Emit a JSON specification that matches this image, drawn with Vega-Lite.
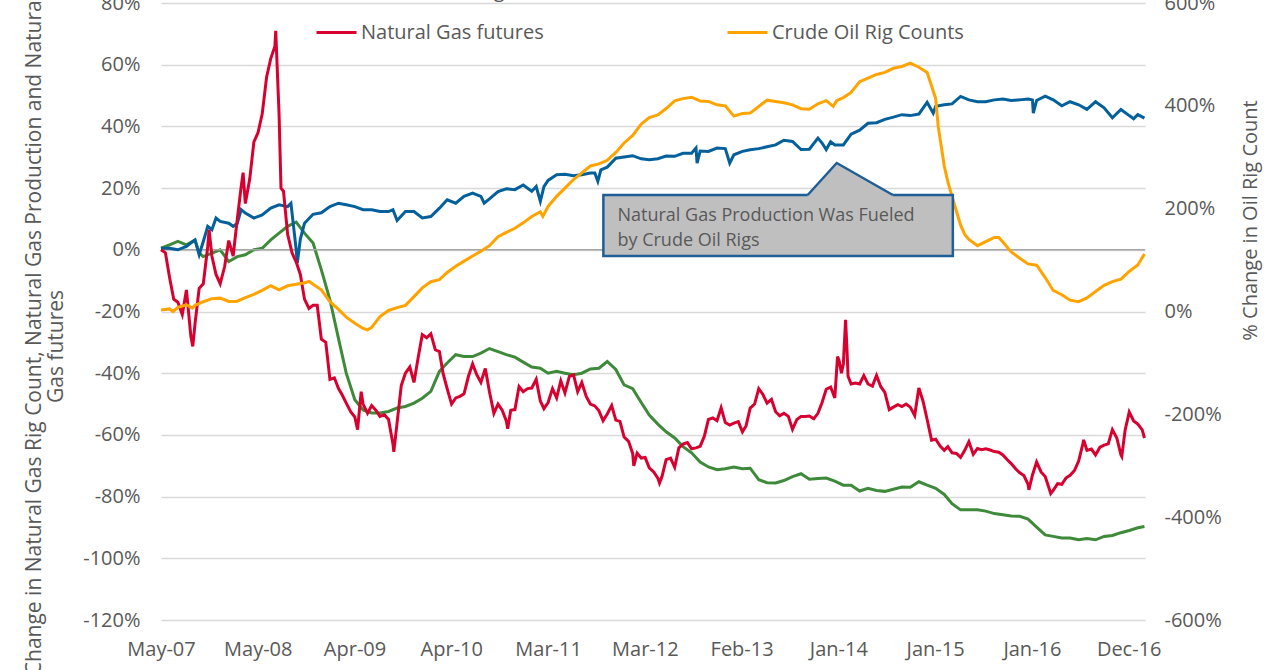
{
"$schema": "https://vega.github.io/schema/vega-lite/v6.json",
"width": 984,
"height": 617,
"autosize": "none",
"padding": {"left": 161, "top": 3, "right": 135, "bottom": 50},
"background": "#ffffff",
"config": {
  "font": "Open Sans",
  "view": {"stroke": null},
  "axis": {"labelFont": "Open Sans", "labelFontSize": 20, "labelColor": "#595959", "titleFont": "Open Sans", "titleFontSize": 20, "titleFontWeight": "normal", "titleColor": "#595959", "ticks": false, "domain": false, "gridColor": "#D9D9D9", "gridWidth": 1.5, "labelOverlap": false, "labelBound": false, "labelFlush": false},
  "line": {"strokeWidth": 3}
},
"datasets": {
  "rig": [
    {"d":"2007-05-18","v":0.5},{"d":"2007-06-18","v":1.6},{"d":"2007-07-18","v":2.7},{"d":"2007-08-18","v":1.6},{"d":"2007-09-18","v":3.2},{"d":"2007-10-03","v":-1},{"d":"2007-10-18","v":-2.2},{"d":"2007-11-18","v":-1.1},{"d":"2007-12-18","v":0},{"d":"2008-01-18","v":-3.8},{"d":"2008-02-18","v":-2.2},{"d":"2008-03-18","v":-1.6},{"d":"2008-04-18","v":0},{"d":"2008-05-18","v":0.5},{"d":"2008-06-18","v":3.2},{"d":"2008-07-18","v":5.4},{"d":"2008-08-18","v":7.6},{"d":"2008-09-18","v":9},{"d":"2008-10-18","v":5.4},{"d":"2008-11-18","v":2.2},{"d":"2008-12-18","v":-6.5},{"d":"2009-01-18","v":-16.2},{"d":"2009-02-18","v":-28.8},{"d":"2009-03-18","v":-40},{"d":"2009-04-18","v":-48.6},{"d":"2009-05-18","v":-51.9},{"d":"2009-06-18","v":-52.9},{"d":"2009-07-18","v":-52.9},{"d":"2009-08-18","v":-52.4},{"d":"2009-09-18","v":-51.3},{"d":"2009-10-18","v":-50.8},{"d":"2009-11-18","v":-49.7},{"d":"2009-12-18","v":-48.1},{"d":"2010-01-18","v":-45.9},{"d":"2010-02-18","v":-39.4},{"d":"2010-03-18","v":-36.7},{"d":"2010-04-18","v":-34},{"d":"2010-05-18","v":-34.6},{"d":"2010-06-18","v":-34.6},{"d":"2010-07-18","v":-33.5},{"d":"2010-08-18","v":-32},{"d":"2010-09-18","v":-33},{"d":"2010-10-18","v":-34},{"d":"2010-11-18","v":-34.8},{"d":"2010-12-18","v":-36.4},{"d":"2011-01-18","v":-38},{"d":"2011-02-18","v":-38.4},{"d":"2011-03-18","v":-40},{"d":"2011-04-18","v":-39.4},{"d":"2011-05-18","v":-40},{"d":"2011-06-18","v":-40.5},{"d":"2011-07-18","v":-40},{"d":"2011-08-18","v":-38.6},{"d":"2011-09-18","v":-38.4},{"d":"2011-10-18","v":-36.2},{"d":"2011-11-18","v":-38.8},{"d":"2011-12-18","v":-43.8},{"d":"2012-01-18","v":-45},{"d":"2012-02-18","v":-49.5},{"d":"2012-03-18","v":-53.6},{"d":"2012-04-18","v":-56.5},{"d":"2012-05-18","v":-59},{"d":"2012-06-18","v":-61},{"d":"2012-07-18","v":-63.8},{"d":"2012-08-18","v":-65.8},{"d":"2012-09-18","v":-68.8},{"d":"2012-10-18","v":-70.4},{"d":"2012-11-18","v":-71.3},{"d":"2012-12-18","v":-71},{"d":"2013-01-18","v":-70.4},{"d":"2013-02-18","v":-71},{"d":"2013-03-18","v":-70.8},{"d":"2013-04-18","v":-74.5},{"d":"2013-05-18","v":-75.5},{"d":"2013-06-18","v":-75.6},{"d":"2013-07-18","v":-74.8},{"d":"2013-08-18","v":-73.5},{"d":"2013-09-18","v":-72.6},{"d":"2013-10-18","v":-74.4},{"d":"2013-11-18","v":-74.1},{"d":"2013-12-18","v":-74},{"d":"2014-01-18","v":-75},{"d":"2014-02-18","v":-76.3},{"d":"2014-03-18","v":-76.3},{"d":"2014-04-18","v":-78.2},{"d":"2014-05-18","v":-77.3},{"d":"2014-06-18","v":-78},{"d":"2014-07-18","v":-78.3},{"d":"2014-08-18","v":-77.6},{"d":"2014-09-18","v":-76.9},{"d":"2014-10-18","v":-77},{"d":"2014-11-18","v":-75.2},{"d":"2014-12-18","v":-76.3},{"d":"2015-01-18","v":-77.3},{"d":"2015-02-18","v":-79.3},{"d":"2015-03-18","v":-82.3},{"d":"2015-04-18","v":-84.3},{"d":"2015-05-18","v":-84.3},{"d":"2015-06-18","v":-84.3},{"d":"2015-07-18","v":-84.7},{"d":"2015-08-18","v":-85.5},{"d":"2015-09-18","v":-85.9},{"d":"2015-10-18","v":-86.3},{"d":"2015-11-18","v":-86.4},{"d":"2015-12-18","v":-87.3},{"d":"2016-01-18","v":-89.9},{"d":"2016-02-18","v":-92.4},{"d":"2016-03-18","v":-92.9},{"d":"2016-04-18","v":-93.4},{"d":"2016-05-18","v":-93.4},{"d":"2016-06-18","v":-94},{"d":"2016-07-18","v":-93.6},{"d":"2016-08-18","v":-94},{"d":"2016-09-18","v":-92.9},{"d":"2016-10-18","v":-92.6},{"d":"2016-11-18","v":-91.7},{"d":"2016-12-18","v":-91},{"d":"2017-01-18","v":-90.1},{"d":"2017-02-11","v":-89.7}
  ],
  "prod": [
    {"d":"2007-05-18","v":0.5},{"d":"2007-06-18","v":0.5},{"d":"2007-07-18","v":0},{"d":"2007-08-18","v":1.1},{"d":"2007-09-18","v":3.2},{"d":"2007-10-03","v":-1.6},{"d":"2007-10-18","v":2.7},{"d":"2007-11-03","v":7.6},{"d":"2007-11-18","v":6.5},{"d":"2007-12-03","v":10.3},{"d":"2007-12-18","v":9.2},{"d":"2008-01-18","v":8.6},{"d":"2008-02-03","v":7.6},{"d":"2008-02-18","v":8.6},{"d":"2008-03-03","v":13},{"d":"2008-03-18","v":11.9},{"d":"2008-04-18","v":10.3},{"d":"2008-05-18","v":11.3},{"d":"2008-06-18","v":13.5},{"d":"2008-07-18","v":14.6},{"d":"2008-08-18","v":14},{"d":"2008-08-30","v":15.1},{"d":"2008-09-18","v":0},{"d":"2008-09-22","v":-4.3},{"d":"2008-10-03","v":3.5},{"d":"2008-10-18","v":8.6},{"d":"2008-11-18","v":11.5},{"d":"2008-12-18","v":12},{"d":"2009-01-18","v":14},{"d":"2009-02-18","v":15.1},{"d":"2009-03-18","v":14.6},{"d":"2009-04-18","v":14},{"d":"2009-05-18","v":13},{"d":"2009-06-18","v":13},{"d":"2009-07-18","v":12.4},{"d":"2009-08-18","v":12.4},{"d":"2009-09-03","v":13},{"d":"2009-09-18","v":9.5},{"d":"2009-10-18","v":12.4},{"d":"2009-11-18","v":12.4},{"d":"2009-12-18","v":10.3},{"d":"2010-01-18","v":10.8},{"d":"2010-02-18","v":13.5},{"d":"2010-03-18","v":16.2},{"d":"2010-04-18","v":15.1},{"d":"2010-05-18","v":17.3},{"d":"2010-06-18","v":18.4},{"d":"2010-07-18","v":17.3},{"d":"2010-07-30","v":15.1},{"d":"2010-08-18","v":16.5},{"d":"2010-09-18","v":18.9},{"d":"2010-10-18","v":19.8},{"d":"2010-11-18","v":19.5},{"d":"2010-12-18","v":21},{"d":"2011-01-18","v":19},{"d":"2011-02-03","v":20.5},{"d":"2011-02-18","v":15.7},{"d":"2011-03-03","v":20.5},{"d":"2011-03-18","v":22.5},{"d":"2011-04-18","v":24.3},{"d":"2011-05-18","v":24.5},{"d":"2011-06-18","v":24},{"d":"2011-07-18","v":24.3},{"d":"2011-08-18","v":24.9},{"d":"2011-09-03","v":24.9},{"d":"2011-09-14","v":22.2},{"d":"2011-09-25","v":25.9},{"d":"2011-10-18","v":26.8},{"d":"2011-11-18","v":29.7},{"d":"2011-12-18","v":30.1},{"d":"2012-01-18","v":30.5},{"d":"2012-02-18","v":29.5},{"d":"2012-03-18","v":29.2},{"d":"2012-04-18","v":29.5},{"d":"2012-05-18","v":30.4},{"d":"2012-06-18","v":30.3},{"d":"2012-07-18","v":31.3},{"d":"2012-08-18","v":31.3},{"d":"2012-09-03","v":33},{"d":"2012-09-07","v":28.1},{"d":"2012-09-18","v":32},{"d":"2012-10-18","v":31.9},{"d":"2012-11-18","v":33},{"d":"2012-12-18","v":32.8},{"d":"2013-01-03","v":28.1},{"d":"2013-01-18","v":30.8},{"d":"2013-02-18","v":31.9},{"d":"2013-03-18","v":32.4},{"d":"2013-04-18","v":32.8},{"d":"2013-05-18","v":33.4},{"d":"2013-06-18","v":34},{"d":"2013-07-18","v":35.5},{"d":"2013-08-18","v":35.1},{"d":"2013-09-18","v":32.5},{"d":"2013-10-18","v":32.6},{"d":"2013-11-18","v":36.2},{"d":"2013-12-03","v":34.6},{"d":"2013-12-18","v":32.5},{"d":"2014-01-03","v":35},{"d":"2014-01-18","v":34},{"d":"2014-02-18","v":34},{"d":"2014-03-18","v":37.5},{"d":"2014-04-18","v":38.8},{"d":"2014-05-18","v":41},{"d":"2014-06-18","v":41.2},{"d":"2014-07-18","v":42.3},{"d":"2014-08-18","v":43},{"d":"2014-09-18","v":43.8},{"d":"2014-10-18","v":43.5},{"d":"2014-11-18","v":44},{"d":"2014-12-18","v":47.8},{"d":"2015-01-09","v":44.3},{"d":"2015-01-18","v":46.5},{"d":"2015-02-18","v":47},{"d":"2015-03-18","v":47.3},{"d":"2015-04-18","v":49.7},{"d":"2015-05-18","v":48.6},{"d":"2015-06-18","v":48},{"d":"2015-07-18","v":48},{"d":"2015-08-18","v":48.6},{"d":"2015-09-18","v":48.9},{"d":"2015-10-18","v":48.4},{"d":"2015-11-18","v":48.6},{"d":"2015-12-18","v":48.9},{"d":"2016-01-03","v":48.6},{"d":"2016-01-06","v":44.3},{"d":"2016-01-18","v":48.4},{"d":"2016-02-18","v":49.8},{"d":"2016-03-18","v":48.6},{"d":"2016-04-18","v":46.7},{"d":"2016-05-18","v":48},{"d":"2016-06-18","v":47},{"d":"2016-07-18","v":45.5},{"d":"2016-08-18","v":48},{"d":"2016-09-18","v":46},{"d":"2016-10-18","v":42.8},{"d":"2016-11-18","v":45.5},{"d":"2016-12-18","v":43.5},{"d":"2017-01-03","v":42.5},{"d":"2017-01-18","v":43.8},{"d":"2017-02-11","v":42.7}
  ],
  "fut": [
    {"d":"2007-05-18","v":0},{"d":"2007-06-03","v":-1},{"d":"2007-06-18","v":-9},{"d":"2007-07-03","v":-16},{"d":"2007-07-18","v":-17},{"d":"2007-08-03","v":-21},{"d":"2007-08-18","v":-13},{"d":"2007-09-03","v":-28},{"d":"2007-09-10","v":-31.3},{"d":"2007-09-18","v":-24},{"d":"2007-10-03","v":-12.5},{"d":"2007-10-18","v":-11},{"d":"2007-11-03","v":1},{"d":"2007-11-08","v":6.5},{"d":"2007-11-18","v":-2},{"d":"2007-12-03","v":-8},{"d":"2007-12-18","v":-11},{"d":"2008-01-03","v":-5.5},{"d":"2008-01-18","v":3},{"d":"2008-02-03","v":-2},{"d":"2008-02-18","v":10},{"d":"2008-03-03","v":20.5},{"d":"2008-03-10","v":25},{"d":"2008-03-18","v":15},{"d":"2008-04-03","v":23},{"d":"2008-04-18","v":35},{"d":"2008-05-03","v":38},{"d":"2008-05-18","v":44},{"d":"2008-06-03","v":56},{"d":"2008-06-18","v":62},{"d":"2008-07-03","v":66},{"d":"2008-07-06","v":71},{"d":"2008-07-18","v":44},{"d":"2008-07-25","v":20},{"d":"2008-08-03","v":19},{"d":"2008-08-18","v":5},{"d":"2008-09-03","v":-1},{"d":"2008-09-18","v":-4},{"d":"2008-10-03","v":-8},{"d":"2008-10-18","v":-16},{"d":"2008-11-03","v":-19},{"d":"2008-11-18","v":-18},{"d":"2008-12-03","v":-18},{"d":"2008-12-18","v":-29},{"d":"2009-01-03","v":-30},{"d":"2009-01-18","v":-42},{"d":"2009-02-03","v":-41.5},{"d":"2009-02-18","v":-45},{"d":"2009-03-03","v":-47},{"d":"2009-03-18","v":-49.7},{"d":"2009-04-03","v":-52.5},{"d":"2009-04-18","v":-54.2},{"d":"2009-04-28","v":-58.3},{"d":"2009-05-11","v":-46},{"d":"2009-05-18","v":-50},{"d":"2009-06-03","v":-53},{"d":"2009-06-18","v":-50.5},{"d":"2009-07-03","v":-52},{"d":"2009-07-18","v":-54},{"d":"2009-08-03","v":-53.5},{"d":"2009-08-18","v":-55},{"d":"2009-09-03","v":-63},{"d":"2009-09-06","v":-65.5},{"d":"2009-09-18","v":-56},{"d":"2009-10-03","v":-44},{"d":"2009-10-18","v":-40},{"d":"2009-11-03","v":-38},{"d":"2009-11-18","v":-43},{"d":"2009-12-03","v":-35},{"d":"2009-12-18","v":-27.5},{"d":"2010-01-03","v":-28.5},{"d":"2010-01-18","v":-27.2},{"d":"2010-02-03","v":-32.4},{"d":"2010-02-18","v":-33},{"d":"2010-03-03","v":-40},{"d":"2010-03-18","v":-45},{"d":"2010-04-03","v":-50},{"d":"2010-04-18","v":-48},{"d":"2010-05-03","v":-47.5},{"d":"2010-05-18","v":-46.7},{"d":"2010-06-03","v":-41},{"d":"2010-06-18","v":-37},{"d":"2010-07-03","v":-40.5},{"d":"2010-07-18","v":-43},{"d":"2010-08-03","v":-38.5},{"d":"2010-08-18","v":-46},{"d":"2010-09-03","v":-53},{"d":"2010-09-18","v":-50},{"d":"2010-10-03","v":-52},{"d":"2010-10-18","v":-55.5},{"d":"2010-10-23","v":-58},{"d":"2010-11-03","v":-52},{"d":"2010-11-18","v":-51.8},{"d":"2010-12-03","v":-44.3},{"d":"2010-12-18","v":-46},{"d":"2011-01-03","v":-45},{"d":"2011-01-18","v":-44.8},{"d":"2011-02-03","v":-42},{"d":"2011-02-18","v":-49},{"d":"2011-03-03","v":-51.5},{"d":"2011-03-18","v":-49.5},{"d":"2011-04-03","v":-45},{"d":"2011-04-18","v":-48},{"d":"2011-05-03","v":-42.5},{"d":"2011-05-18","v":-46.4},{"d":"2011-06-03","v":-41},{"d":"2011-06-18","v":-40.5},{"d":"2011-07-03","v":-46},{"d":"2011-07-18","v":-43},{"d":"2011-08-03","v":-47.5},{"d":"2011-08-18","v":-50},{"d":"2011-09-03","v":-50.6},{"d":"2011-09-18","v":-52.2},{"d":"2011-10-03","v":-55.4},{"d":"2011-10-18","v":-53.2},{"d":"2011-11-03","v":-50.5},{"d":"2011-11-18","v":-55.2},{"d":"2011-12-03","v":-55.6},{"d":"2011-12-18","v":-60.7},{"d":"2012-01-03","v":-62.1},{"d":"2012-01-18","v":-66},{"d":"2012-01-22","v":-70},{"d":"2012-02-03","v":-65.9},{"d":"2012-02-18","v":-67.5},{"d":"2012-03-03","v":-67.3},{"d":"2012-03-18","v":-70.7},{"d":"2012-04-03","v":-72},{"d":"2012-04-18","v":-74},{"d":"2012-04-24","v":-75.6},{"d":"2012-05-03","v":-73.5},{"d":"2012-05-18","v":-68},{"d":"2012-06-03","v":-67.5},{"d":"2012-06-18","v":-70.5},{"d":"2012-07-03","v":-64.2},{"d":"2012-07-18","v":-63},{"d":"2012-08-03","v":-62.5},{"d":"2012-08-18","v":-64.5},{"d":"2012-09-03","v":-64.2},{"d":"2012-09-18","v":-63.7},{"d":"2012-10-03","v":-60.5},{"d":"2012-10-18","v":-55},{"d":"2012-11-03","v":-54.5},{"d":"2012-11-18","v":-55.4},{"d":"2012-12-03","v":-51.2},{"d":"2012-12-18","v":-56},{"d":"2013-01-03","v":-56.8},{"d":"2013-01-18","v":-56.2},{"d":"2013-02-03","v":-55.7},{"d":"2013-02-18","v":-59},{"d":"2013-03-03","v":-57.1},{"d":"2013-03-18","v":-51.3},{"d":"2013-04-03","v":-50},{"d":"2013-04-18","v":-45},{"d":"2013-05-03","v":-46.9},{"d":"2013-05-18","v":-49.7},{"d":"2013-06-03","v":-48.5},{"d":"2013-06-18","v":-52.5},{"d":"2013-07-03","v":-53.8},{"d":"2013-07-18","v":-53},{"d":"2013-08-03","v":-54},{"d":"2013-08-18","v":-58.2},{"d":"2013-09-03","v":-55},{"d":"2013-09-18","v":-54},{"d":"2013-10-03","v":-54},{"d":"2013-10-18","v":-53.9},{"d":"2013-11-03","v":-54.8},{"d":"2013-11-18","v":-53},{"d":"2013-12-03","v":-49.5},{"d":"2013-12-18","v":-45.2},{"d":"2014-01-03","v":-44.5},{"d":"2014-01-18","v":-48},{"d":"2014-01-28","v":-34.6},{"d":"2014-02-03","v":-36},{"d":"2014-02-11","v":-40},{"d":"2014-02-18","v":-37},{"d":"2014-02-26","v":-22.7},{"d":"2014-03-03","v":-32},{"d":"2014-03-07","v":-41},{"d":"2014-03-18","v":-43.5},{"d":"2014-04-03","v":-43.2},{"d":"2014-04-18","v":-43.5},{"d":"2014-05-03","v":-40.8},{"d":"2014-05-18","v":-43.5},{"d":"2014-06-03","v":-44.2},{"d":"2014-06-18","v":-40.7},{"d":"2014-07-03","v":-44.3},{"d":"2014-07-18","v":-46.2},{"d":"2014-08-03","v":-51.8},{"d":"2014-08-18","v":-51},{"d":"2014-09-03","v":-50.2},{"d":"2014-09-18","v":-50.8},{"d":"2014-10-03","v":-50},{"d":"2014-10-18","v":-51},{"d":"2014-11-03","v":-53.7},{"d":"2014-11-18","v":-44.8},{"d":"2014-12-03","v":-49},{"d":"2014-12-18","v":-55},{"d":"2015-01-03","v":-61.7},{"d":"2015-01-18","v":-61.4},{"d":"2015-02-03","v":-63.6},{"d":"2015-02-18","v":-65},{"d":"2015-03-03","v":-63.8},{"d":"2015-03-18","v":-65.8},{"d":"2015-04-03","v":-66},{"d":"2015-04-18","v":-67.3},{"d":"2015-05-03","v":-65},{"d":"2015-05-18","v":-62.2},{"d":"2015-06-03","v":-66.3},{"d":"2015-06-18","v":-64.4},{"d":"2015-07-03","v":-64.8},{"d":"2015-07-18","v":-64.5},{"d":"2015-08-03","v":-64.9},{"d":"2015-08-18","v":-65.4},{"d":"2015-09-03","v":-65.6},{"d":"2015-09-18","v":-66.5},{"d":"2015-10-03","v":-68},{"d":"2015-10-18","v":-69.3},{"d":"2015-11-03","v":-71},{"d":"2015-11-18","v":-72.3},{"d":"2015-12-03","v":-73.2},{"d":"2015-12-18","v":-76},{"d":"2015-12-21","v":-77.8},{"d":"2016-01-03","v":-73},{"d":"2016-01-18","v":-68.8},{"d":"2016-02-03","v":-72},{"d":"2016-02-18","v":-73.5},{"d":"2016-03-03","v":-77.3},{"d":"2016-03-09","v":-79},{"d":"2016-03-18","v":-78},{"d":"2016-04-03","v":-75.8},{"d":"2016-04-18","v":-76},{"d":"2016-05-03","v":-74},{"d":"2016-05-18","v":-73.1},{"d":"2016-06-03","v":-71.5},{"d":"2016-06-18","v":-68.5},{"d":"2016-07-03","v":-63},{"d":"2016-07-06","v":-61.6},{"d":"2016-07-18","v":-65},{"d":"2016-08-03","v":-64.6},{"d":"2016-08-18","v":-66.5},{"d":"2016-09-03","v":-64},{"d":"2016-09-18","v":-63.3},{"d":"2016-10-03","v":-62.9},{"d":"2016-10-18","v":-58.3},{"d":"2016-11-03","v":-61},{"d":"2016-11-18","v":-66.5},{"d":"2016-11-21","v":-67},{"d":"2016-12-03","v":-58.5},{"d":"2016-12-18","v":-52.6},{"d":"2017-01-03","v":-55.5},{"d":"2017-01-18","v":-56.5},{"d":"2017-02-03","v":-58.4},{"d":"2017-02-11","v":-61}
  ],
  "oil": [
    {"d":"2007-05-18","v":3},{"d":"2007-06-18","v":5},{"d":"2007-07-01","v":0},{"d":"2007-07-18","v":8},{"d":"2007-08-18","v":13},{"d":"2007-09-08","v":6.6},{"d":"2007-09-18","v":12},{"d":"2007-10-18","v":19},{"d":"2007-11-18","v":25},{"d":"2007-12-18","v":26},{"d":"2008-01-18","v":19.5},{"d":"2008-02-18","v":20},{"d":"2008-03-18","v":27},{"d":"2008-04-18","v":33.5},{"d":"2008-05-18","v":41},{"d":"2008-06-18","v":50},{"d":"2008-07-18","v":42},{"d":"2008-08-18","v":50},{"d":"2008-09-18","v":53},{"d":"2008-10-18","v":56},{"d":"2008-11-04","v":58.4},{"d":"2008-11-18","v":53},{"d":"2008-12-18","v":42.2},{"d":"2009-01-18","v":19},{"d":"2009-02-18","v":4},{"d":"2009-03-18","v":-11},{"d":"2009-04-18","v":-23},{"d":"2009-05-18","v":-33},{"d":"2009-06-03","v":-35.6},{"d":"2009-06-18","v":-31},{"d":"2009-07-18","v":-10},{"d":"2009-08-18","v":2},{"d":"2009-09-18","v":7.5},{"d":"2009-10-18","v":12},{"d":"2009-11-18","v":29},{"d":"2009-12-18","v":46},{"d":"2010-01-18","v":58},{"d":"2010-02-18","v":62},{"d":"2010-03-18","v":76},{"d":"2010-04-18","v":88},{"d":"2010-05-18","v":98},{"d":"2010-06-18","v":108},{"d":"2010-07-18","v":117},{"d":"2010-08-18","v":128},{"d":"2010-09-18","v":145.5},{"d":"2010-10-18","v":153.8},{"d":"2010-11-18","v":161.9},{"d":"2010-12-18","v":172.4},{"d":"2011-01-18","v":184.7},{"d":"2011-02-18","v":194},{"d":"2011-02-27","v":185},{"d":"2011-03-18","v":204.3},{"d":"2011-04-18","v":224},{"d":"2011-05-18","v":240},{"d":"2011-06-18","v":256.7},{"d":"2011-07-18","v":269.7},{"d":"2011-08-18","v":283},{"d":"2011-09-18","v":287.2},{"d":"2011-10-18","v":294},{"d":"2011-11-18","v":309.4},{"d":"2011-12-18","v":327.8},{"d":"2012-01-18","v":342.5},{"d":"2012-02-18","v":364.6},{"d":"2012-03-18","v":377},{"d":"2012-04-18","v":382.2},{"d":"2012-05-18","v":394.7},{"d":"2012-06-18","v":409.8},{"d":"2012-07-18","v":414},{"d":"2012-08-18","v":416.8},{"d":"2012-09-18","v":409.5},{"d":"2012-10-18","v":408.5},{"d":"2012-11-18","v":402},{"d":"2012-12-18","v":400},{"d":"2013-01-18","v":380},{"d":"2013-02-18","v":385},{"d":"2013-03-18","v":385.9},{"d":"2013-04-18","v":398.8},{"d":"2013-05-18","v":411},{"d":"2013-06-18","v":408.5},{"d":"2013-07-18","v":406},{"d":"2013-08-18","v":402},{"d":"2013-09-18","v":394.5},{"d":"2013-10-18","v":393.5},{"d":"2013-11-18","v":404},{"d":"2013-12-18","v":410},{"d":"2014-01-12","v":399},{"d":"2014-01-25","v":410},{"d":"2014-02-18","v":416},{"d":"2014-03-18","v":426},{"d":"2014-04-18","v":447},{"d":"2014-05-18","v":454},{"d":"2014-06-18","v":461},{"d":"2014-07-18","v":465},{"d":"2014-08-18","v":473},{"d":"2014-09-18","v":476.5},{"d":"2014-10-18","v":483},{"d":"2014-11-18","v":475},{"d":"2014-12-18","v":465},{"d":"2015-01-18","v":414},{"d":"2015-01-27","v":360},{"d":"2015-02-18","v":283},{"d":"2015-03-03","v":252},{"d":"2015-03-18","v":224},{"d":"2015-04-03","v":195},{"d":"2015-04-18","v":168},{"d":"2015-05-03","v":150},{"d":"2015-05-18","v":140},{"d":"2015-06-18","v":128},{"d":"2015-07-18","v":136},{"d":"2015-08-18","v":144},{"d":"2015-09-03","v":144},{"d":"2015-09-18","v":135},{"d":"2015-10-18","v":116},{"d":"2015-11-18","v":103.5},{"d":"2015-12-18","v":92.5},{"d":"2016-01-18","v":90},{"d":"2016-02-18","v":66},{"d":"2016-03-18","v":41},{"d":"2016-04-18","v":32.6},{"d":"2016-05-18","v":22},{"d":"2016-06-18","v":19},{"d":"2016-07-18","v":26.5},{"d":"2016-08-18","v":39},{"d":"2016-09-18","v":50.8},{"d":"2016-10-18","v":58},{"d":"2016-11-18","v":63},{"d":"2016-12-18","v":78},{"d":"2017-01-18","v":90.5},{"d":"2017-02-11","v":112}
  ],
  "pointer": [
    {"d":"2013-10-12","v":17.76},{"d":"2014-01-25","v":28.14},{"d":"2014-08-16","v":17.76}
  ],
  "note": [
    {"t":"Natural Gas Production Was Fueled","v":10.96},{"t":"by Crude Oil Rigs","v":2.85}
  ]
},
"layer": [
  {
    "layer": [
      {
        "data": {"name": "rig"},
        "mark": {"type": "line", "strokeWidth": 3},
        "encoding": {
          "x": {"field": "d", "type": "temporal",
            "scale": {"type": "utc", "domain": [{"year":2007,"month":5,"date":18,"utc":true},{"year":2017,"month":2,"date":13,"utc":true}]},
            "axis": {"values": [{"year":2007,"month":5,"date":18,"utc":true},{"year":2008,"month":5,"date":2,"utc":true},{"year":2009,"month":4,"date":17,"utc":true},{"year":2010,"month":4,"date":2,"utc":true},{"year":2011,"month":3,"date":18,"utc":true},{"year":2012,"month":3,"date":2,"utc":true},{"year":2013,"month":2,"date":15,"utc":true},{"year":2014,"month":1,"date":31,"utc":true},{"year":2015,"month":1,"date":16,"utc":true},{"year":2016,"month":1,"date":1,"utc":true},{"year":2016,"month":12,"date":16,"utc":true}],
              "format": "%b-%y", "labelPadding": 19, "grid": false, "title": null}},
          "y": {"field": "v", "type": "quantitative", "scale": {"domain": [-120, 80], "nice": false, "zero": false},
            "axis": {"values": [-120,-100,-80,-60,-40,-20,0,20,40,60,80], "labelExpr": "datum.value + '%'", "labelPadding": 21, "grid": true,
              "title": ["% Change in Natural Gas Rig Count, Natural Gas Production and Natural", "Gas futures"],
              "titleFontSize": 21, "titleAngle": 270, "titleBaseline": "top", "titleAlign": "center", "titleX": -138, "titleY": 343, "titleLineHeight": 22}},
          "color": {"datum": "Natural Gas Rig Count", "type": "nominal",
            "scale": {"domain": ["Natural Gas Rig Count", "Natural Gas Production", "Natural Gas futures", "Crude Oil Rig Counts"], "range": ["#3E8A3A", "#03609B", "#D7002F", "#FFA300"]},
            "legend": {"orient": "none", "legendX": 154, "legendY": -34, "direction": "horizontal", "columns": 2, "title": null, "symbolType": "stroke", "symbolStrokeWidth": 4, "symbolSize": 1600, "labelFont": "Open Sans", "labelFontSize": 20, "labelColor": "#595959", "labelOffset": 3, "columnPadding": 154, "rowPadding": 10, "padding": 0, "labelLimit": 400}}
        }
      },
      {
        "data": {"values": [{}]},
        "mark": {"type": "rule", "color": "#A6A6A6", "strokeWidth": 1.5},
        "encoding": {
          "y": {"datum": 0, "type": "quantitative", "scale": {"domain": [-120, 80], "nice": false, "zero": false},
            "axis": {"values": [-120,-100,-80,-60,-40,-20,0,20,40,60,80], "labelExpr": "datum.value + '%'", "labelPadding": 21, "grid": true,
              "title": ["% Change in Natural Gas Rig Count, Natural Gas Production and Natural", "Gas futures"],
              "titleFontSize": 21, "titleAngle": 270, "titleBaseline": "top", "titleAlign": "center", "titleX": -138, "titleY": 343, "titleLineHeight": 22}}
        }
      },
      {
        "data": {"name": "prod"},
        "mark": {"type": "line", "strokeWidth": 3},
        "encoding": {
          "x": {"field": "d", "type": "temporal", "scale": {"type": "utc", "domain": [{"year":2007,"month":5,"date":18,"utc":true},{"year":2017,"month":2,"date":13,"utc":true}]}},
          "y": {"field": "v", "type": "quantitative", "scale": {"domain": [-120, 80], "nice": false, "zero": false},
            "axis": {"values": [-120,-100,-80,-60,-40,-20,0,20,40,60,80], "labelExpr": "datum.value + '%'", "labelPadding": 21, "grid": true,
              "title": ["% Change in Natural Gas Rig Count, Natural Gas Production and Natural", "Gas futures"],
              "titleFontSize": 21, "titleAngle": 270, "titleBaseline": "top", "titleAlign": "center", "titleX": -138, "titleY": 343, "titleLineHeight": 22}},
          "color": {"datum": "Natural Gas Production", "type": "nominal", "scale": {"domain": ["Natural Gas Rig Count", "Natural Gas Production", "Natural Gas futures", "Crude Oil Rig Counts"], "range": ["#3E8A3A", "#03609B", "#D7002F", "#FFA300"]}}
        }
      },
      {
        "data": {"name": "fut"},
        "mark": {"type": "line", "strokeWidth": 3},
        "encoding": {
          "x": {"field": "d", "type": "temporal", "scale": {"type": "utc", "domain": [{"year":2007,"month":5,"date":18,"utc":true},{"year":2017,"month":2,"date":13,"utc":true}]}},
          "y": {"field": "v", "type": "quantitative", "scale": {"domain": [-120, 80], "nice": false, "zero": false},
            "axis": {"values": [-120,-100,-80,-60,-40,-20,0,20,40,60,80], "labelExpr": "datum.value + '%'", "labelPadding": 21, "grid": true,
              "title": ["% Change in Natural Gas Rig Count, Natural Gas Production and Natural", "Gas futures"],
              "titleFontSize": 21, "titleAngle": 270, "titleBaseline": "top", "titleAlign": "center", "titleX": -138, "titleY": 343, "titleLineHeight": 22}},
          "color": {"datum": "Natural Gas futures", "type": "nominal", "scale": {"domain": ["Natural Gas Rig Count", "Natural Gas Production", "Natural Gas futures", "Crude Oil Rig Counts"], "range": ["#3E8A3A", "#03609B", "#D7002F", "#FFA300"]}}
        }
      }
    ]
  },
  {
    "data": {"name": "oil"},
    "mark": {"type": "line", "strokeWidth": 3},
    "encoding": {
      "x": {"field": "d", "type": "temporal", "scale": {"type": "utc", "domain": [{"year":2007,"month":5,"date":18,"utc":true},{"year":2017,"month":2,"date":13,"utc":true}]}},
      "y": {"field": "v", "type": "quantitative", "scale": {"domain": [-600, 600], "nice": false, "zero": false},
        "axis": {"orient": "right", "values": [-600,-400,-200,0,200,400,600], "labelExpr": "datum.value + '%'", "labelPadding": 19, "grid": false,
          "title": "% Change in Oil Rig Count", "titleAngle": 270, "titleBaseline": "top", "titleAlign": "center", "titleX": 95, "titleY": 217}},
      "color": {"datum": "Crude Oil Rig Counts", "type": "nominal", "scale": {"domain": ["Natural Gas Rig Count", "Natural Gas Production", "Natural Gas futures", "Crude Oil Rig Counts"], "range": ["#3E8A3A", "#03609B", "#D7002F", "#FFA300"]}}
    }
  },
  {
    "layer": [
      {
        "data": {"values": [{}]},
        "mark": {"type": "rect", "fill": "#BFBFBF", "stroke": "#1F5E96", "strokeWidth": 2.5},
        "encoding": {
          "x": {"datum": {"year":2011,"month":10,"date":4,"utc":true}, "type": "temporal", "scale": {"type": "utc", "domain": [{"year":2007,"month":5,"date":18,"utc":true},{"year":2017,"month":2,"date":13,"utc":true}]}},
          "x2": {"datum": {"year":2015,"month":3,"date":21,"utc":true}},
          "y": {"datum": 17.76, "type": "quantitative", "scale": {"domain": [-120, 80], "nice": false, "zero": false}, "axis": null},
          "y2": {"datum": -2.0}
        }
      },
      {
        "data": {"name": "pointer"},
        "mark": {"type": "area", "color": "#BFBFBF", "opacity": 1},
        "encoding": {
          "x": {"field": "d", "type": "temporal", "scale": {"type": "utc", "domain": [{"year":2007,"month":5,"date":18,"utc":true},{"year":2017,"month":2,"date":13,"utc":true}]}},
          "y": {"field": "v", "type": "quantitative", "scale": {"domain": [-120, 80], "nice": false, "zero": false}, "axis": null},
          "y2": {"datum": 17.0}
        }
      },
      {
        "data": {"name": "pointer"},
        "mark": {"type": "line", "color": "#1F5E96", "strokeWidth": 2.5},
        "encoding": {
          "x": {"field": "d", "type": "temporal", "scale": {"type": "utc", "domain": [{"year":2007,"month":5,"date":18,"utc":true},{"year":2017,"month":2,"date":13,"utc":true}]}},
          "y": {"field": "v", "type": "quantitative", "scale": {"domain": [-120, 80], "nice": false, "zero": false}, "axis": null}
        }
      },
      {
        "data": {"name": "note"},
        "mark": {"type": "text", "align": "left", "baseline": "middle", "font": "Open Sans", "fontSize": 18, "color": "#595959"},
        "encoding": {
          "x": {"datum": {"year":2011,"month":11,"date":24,"utc":true}, "type": "temporal", "scale": {"type": "utc", "domain": [{"year":2007,"month":5,"date":18,"utc":true},{"year":2017,"month":2,"date":13,"utc":true}]}},
          "y": {"field": "v", "type": "quantitative", "scale": {"domain": [-120, 80], "nice": false, "zero": false}, "axis": null},
          "text": {"field": "t"}
        }
      }
    ]
  }
],
"resolve": {"scale": {"y": "independent"}}
}
